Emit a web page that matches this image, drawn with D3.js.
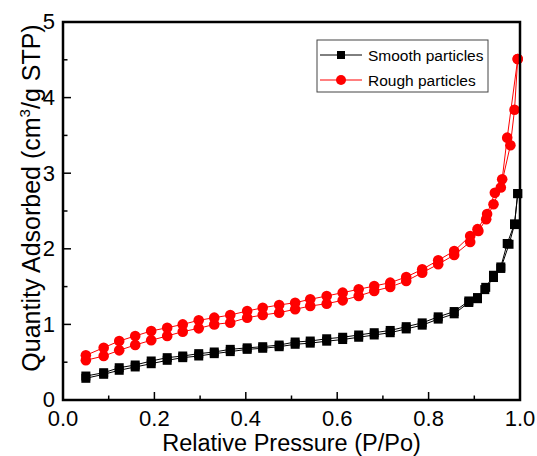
<!DOCTYPE html>
<html>
<head>
<meta charset="utf-8">
<script src="https://cdn.jsdelivr.net/npm/d3@7"></script>
<style>
  body { margin: 0; background: #fff; }
  svg { font-family: "Liberation Sans", Arial, sans-serif; }
</style>
</head>
<body>
<svg id="chart" width="537" height="456"></svg>
<script>
// smooth particles (black squares)
var smoothAdsP = [0.050, 0.089, 0.123, 0.158, 0.193, 0.228, 0.262, 0.297, 0.331, 0.366, 0.403, 0.437, 0.473, 0.508, 0.541, 0.577, 0.612, 0.647, 0.681, 0.716, 0.751, 0.786, 0.821, 0.856, 0.888, 0.907, 0.923, 0.942, 0.958, 0.976, 0.988, 0.995];
var smoothAdsQ = [0.287, 0.340, 0.393, 0.437, 0.480, 0.525, 0.560, 0.582, 0.613, 0.640, 0.670, 0.684, 0.705, 0.737, 0.752, 0.778, 0.800, 0.830, 0.860, 0.890, 0.940, 0.990, 1.070, 1.140, 1.290, 1.340, 1.460, 1.620, 1.740, 2.060, 2.320, 2.730];
var smoothDesP = [0.050, 0.089, 0.123, 0.158, 0.193, 0.228, 0.262, 0.297, 0.331, 0.366, 0.403, 0.437, 0.473, 0.508, 0.541, 0.577, 0.612, 0.647, 0.681, 0.716, 0.751, 0.786, 0.821, 0.856, 0.888, 0.907, 0.925, 0.942, 0.958, 0.972, 0.988, 0.995];
var smoothDesQ = [0.317, 0.361, 0.427, 0.463, 0.516, 0.560, 0.582, 0.613, 0.635, 0.670, 0.690, 0.705, 0.727, 0.767, 0.780, 0.810, 0.830, 0.860, 0.890, 0.920, 0.970, 1.020, 1.100, 1.170, 1.310, 1.355, 1.490, 1.650, 1.760, 2.070, 2.330, 2.730];

// rough particles (red circles)
var roughAdsP = [0.050, 0.089, 0.123, 0.158, 0.193, 0.228, 0.262, 0.297, 0.331, 0.366, 0.403, 0.437, 0.473, 0.508, 0.541, 0.577, 0.612, 0.647, 0.681, 0.716, 0.751, 0.786, 0.821, 0.856, 0.891, 0.909, 0.926, 0.942, 0.958, 0.979, 0.988, 0.995];
var roughAdsQ = [0.525, 0.582, 0.657, 0.728, 0.790, 0.847, 0.904, 0.948, 1.000, 1.023, 1.089, 1.124, 1.155, 1.200, 1.243, 1.274, 1.318, 1.376, 1.442, 1.495, 1.574, 1.684, 1.795, 1.918, 2.090, 2.235, 2.390, 2.590, 2.810, 3.370, 3.840, 4.510];
var roughDesP = [0.050, 0.089, 0.123, 0.158, 0.193, 0.228, 0.262, 0.297, 0.331, 0.366, 0.403, 0.437, 0.473, 0.508, 0.541, 0.577, 0.612, 0.647, 0.681, 0.716, 0.751, 0.786, 0.821, 0.856, 0.891, 0.907, 0.928, 0.945, 0.961, 0.972, 0.995];
var roughDesQ = [0.591, 0.692, 0.780, 0.847, 0.913, 0.956, 1.000, 1.054, 1.089, 1.124, 1.177, 1.220, 1.257, 1.287, 1.332, 1.376, 1.420, 1.464, 1.508, 1.552, 1.627, 1.728, 1.848, 1.971, 2.170, 2.260, 2.460, 2.740, 2.920, 3.470, 4.510];

var xTicks = [0.0, 0.2, 0.4, 0.6, 0.8, 1.0];
var xMinor = [0.1, 0.3, 0.5, 0.7, 0.9];
var yTicks = [0, 1, 2, 3, 4, 5];
var yMinor = [0.5, 1.5, 2.5, 3.5, 4.5];
var legendNames = ["Smooth particles", "Rough particles"];

var svg = d3.select("svg#chart");
var margin = {top: 22, right: 17, bottom: 56, left: 63};
var width = +svg.attr("width") - margin.left - margin.right;
var height = +svg.attr("height") - margin.top - margin.bottom;

var x = d3.scaleLinear().domain([0, 1]).range([0, width]);
var y = d3.scaleLinear().domain([0, 5]).range([height, 0]);

var g = svg.append("g")
  .attr("transform", `translate(${margin.left},${margin.top})`);

//inward ticks
g.selectAll("line.xmaj").data(xTicks).enter().append("line")
  .attr("x1", d => x(d)).attr("x2", d => x(d))
  .attr("y1", height).attr("y2", height - 8)
  .attr("stroke", "#000").attr("stroke-width", 1.5);
g.selectAll("line.xmin").data(xMinor).enter().append("line")
  .attr("x1", d => x(d)).attr("x2", d => x(d))
  .attr("y1", height).attr("y2", height - 4.5)
  .attr("stroke", "#000").attr("stroke-width", 1.5);
g.selectAll("line.ymaj").data(yTicks).enter().append("line")
  .attr("x1", 0).attr("x2", 8)
  .attr("y1", d => y(d)).attr("y2", d => y(d))
  .attr("stroke", "#000").attr("stroke-width", 1.5);
g.selectAll("line.ymin").data(yMinor).enter().append("line")
  .attr("x1", 0).attr("x2", 4.5)
  .attr("y1", d => y(d)).attr("y2", d => y(d))
  .attr("stroke", "#000").attr("stroke-width", 1.5);

//tick labels
g.selectAll("text.xlab").data(xTicks).enter().append("text")
  .attr("x", d => x(d))
  .attr("y", height + 25.5)
  .attr("text-anchor", "middle")
  .attr("font-size", "22px")
  .text(d => d.toFixed(1));
g.selectAll("text.ylab").data(yTicks).enter().append("text")
  .attr("x", -8)
  .attr("y", d => y(d))
  .attr("dy", "0.34em")
  .attr("text-anchor", "end")
  .attr("font-size", "22px")
  .text(d => d);

//axis titles
g.append("text")
  .attr("x", width / 2)
  .attr("y", height + 51)
  .attr("text-anchor", "middle")
  .attr("font-size", "23.5px")
  .text("Relative Pressure (P/Po)");

var yt = g.append("text")
  .attr("transform", `translate(-23,${height / 2 - 13}) rotate(-90)`)
  .attr("text-anchor", "middle")
  .attr("font-size", "25px");
yt.append("tspan").text("Quantity Adsorbed (cm");
yt.append("tspan").attr("font-size", "15px").attr("dy", "-10").text("3");
yt.append("tspan").attr("dy", "10").text("/g STP)");

//series
var line = d3.line().x(d => x(d[0])).y(d => y(d[1]));
function zip(p, q) { return p.map((v, i) => [v, q[i]]); }

var series = [
  {color: "#000", shape: "square", branches: [zip(smoothAdsP, smoothAdsQ), zip(smoothDesP, smoothDesQ)]},
  {color: "#ff0000", shape: "circle", branches: [zip(roughAdsP, roughAdsQ), zip(roughDesP, roughDesQ)]}
];

series.forEach(function(s) {
  s.branches.forEach(function(b) {
    g.append("path")
      .datum(b)
      .attr("d", line)
      .attr("fill", "none")
      .attr("stroke", s.color)
      .attr("stroke-width", 1);
  });
  s.branches.forEach(function(b) {
    if (s.shape == "square") {
      g.append("g").selectAll("rect").data(b).enter().append("rect")
        .attr("x", d => x(d[0]) - 4.5)
        .attr("y", d => y(d[1]) - 4.5)
        .attr("width", 9).attr("height", 9)
        .attr("fill", s.color);
    } else {
      g.append("g").selectAll("circle").data(b).enter().append("circle")
        .attr("cx", d => x(d[0]))
        .attr("cy", d => y(d[1]))
        .attr("r", 5.3)
        .attr("fill", s.color);
    }
  });
});

//frame
g.append("rect")
  .attr("x", 0).attr("y", 0)
  .attr("width", width).attr("height", height)
  .attr("fill", "none")
  .attr("stroke", "#000")
  .attr("stroke-width", 2.5);

//legend
var lg = svg.append("g").attr("transform", "translate(317,40)");
lg.append("rect")
  .attr("width", 171).attr("height", 52)
  .attr("fill", "#fff")
  .attr("stroke", "#444")
  .attr("stroke-width", 1);
legendNames.forEach(function(name, i) {
  let s = series[i];
  let ly = 15 + i * 25;
  lg.append("line")
    .attr("x1", 3).attr("x2", 45)
    .attr("y1", ly).attr("y2", ly)
    .attr("stroke", s.color).attr("stroke-width", 1);
  if (s.shape == "square") {
    lg.append("rect").attr("x", 20).attr("y", ly - 4).attr("width", 8).attr("height", 8).attr("fill", s.color);
  } else {
    lg.append("circle").attr("cx", 24).attr("cy", ly).attr("r", 5).attr("fill", s.color);
  }
  lg.append("text")
    .attr("x", 51).attr("y", ly)
    .attr("dy", "0.36em")
    .attr("font-size", "15.5px")
    .text(name);
});
</script>
</body>
</html>
